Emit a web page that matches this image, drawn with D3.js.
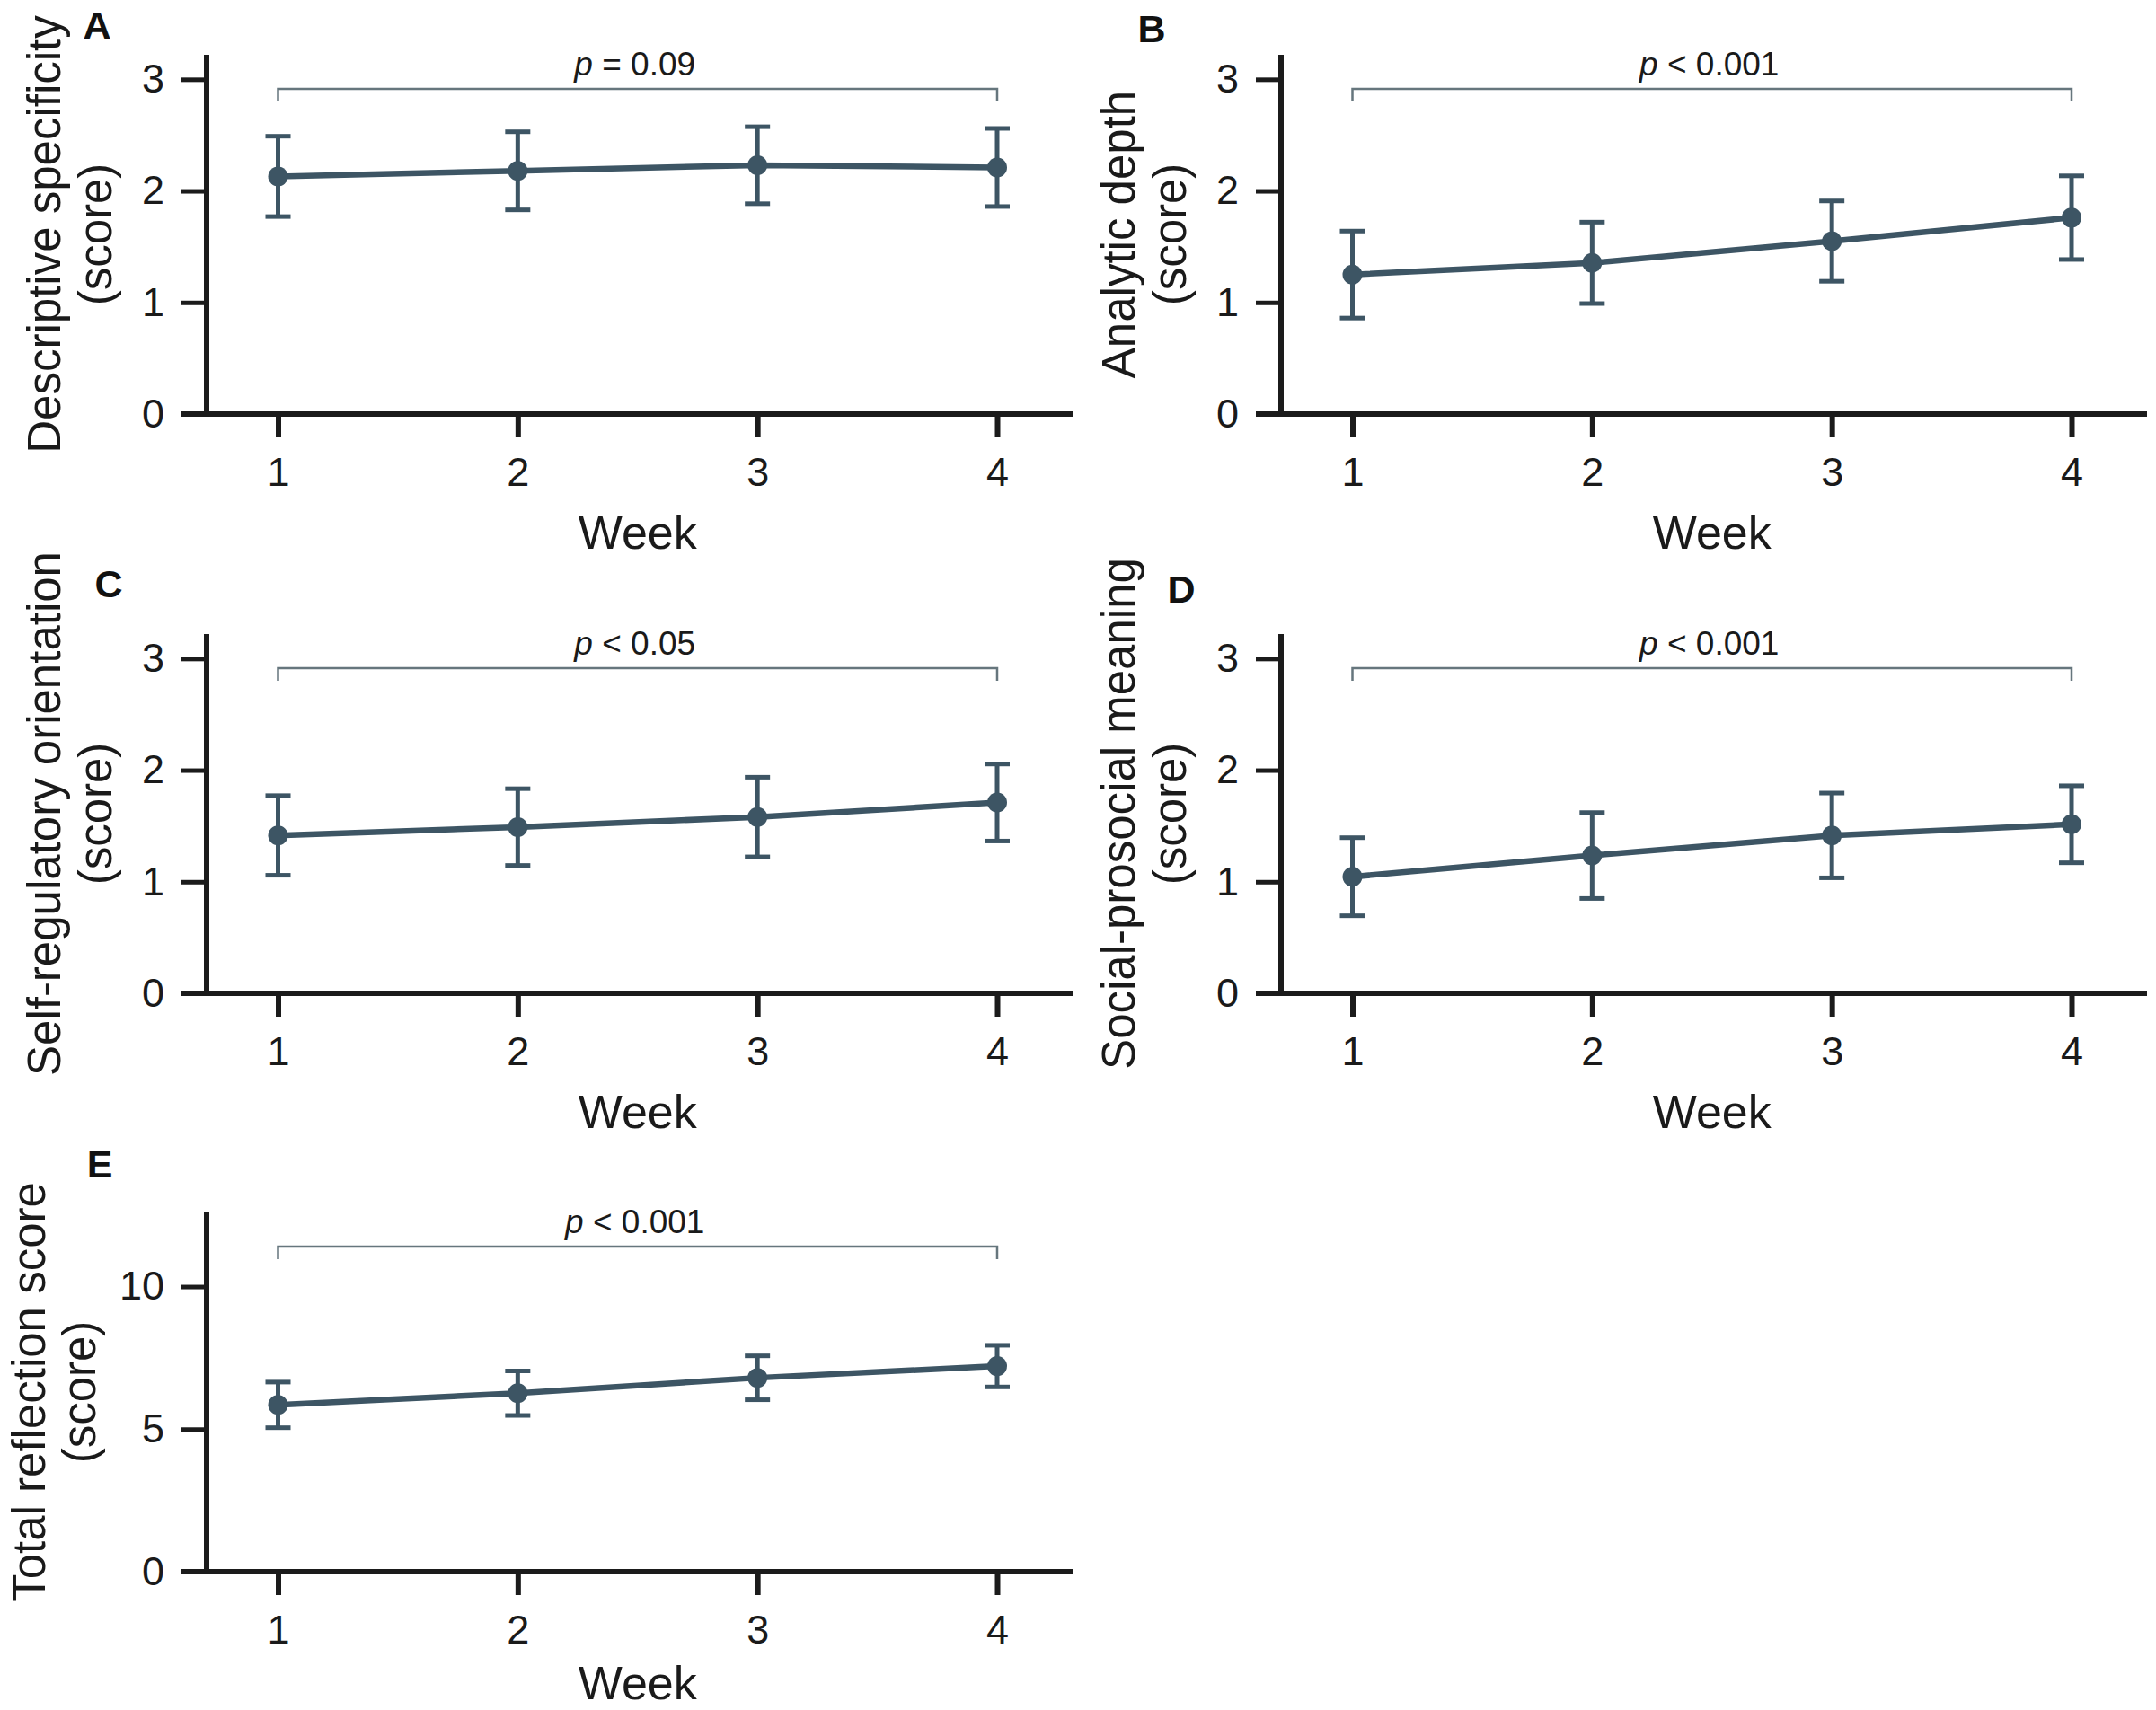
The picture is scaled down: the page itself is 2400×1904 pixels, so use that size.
<!DOCTYPE html>
<html>
<head>
<meta charset="utf-8">
<script src="https://cdn.jsdelivr.net/npm/d3@7"></script>
<style>
  html, body { margin: 0; padding: 0; background: #fff; }
  svg { display: block; font-family: "Liberation Sans", Arial, sans-serif; }
</style>
</head>
<body>
<div id="chart"></div>
<script>
// values (mean and error-bar half width per week)
const weeks = [1, 2, 3, 4];
const panelLetters = ['A', 'B', 'C', 'D', 'E'];
const yTitles = [
  'Descriptive specificity',
  'Analytic depth',
  'Self-regulatory orientation',
  'Social-prosocial meaning',
  'Total reflection score'
];
const pLabels = [' = 0.09', ' < 0.001', ' < 0.05', ' < 0.001', ' < 0.001'];

const descMean = [2.13, 2.18, 2.23, 2.21];
const descErr = [0.36, 0.35, 0.345, 0.35];
const analyticMean = [1.25, 1.355, 1.55, 1.76];
const analyticErr = [0.39, 0.365, 0.36, 0.375];
const selfRegMean = [1.415, 1.49, 1.58, 1.71];
const selfRegErr = [0.357, 0.344, 0.357, 0.345];
const socialMean = [1.045, 1.235, 1.415, 1.515];
const socialErr = [0.35, 0.385, 0.38, 0.345];
const totalMean = [5.85, 6.26, 6.80, 7.21];
const totalErr = [0.80, 0.78, 0.77, 0.73];

const subscaleTicks = [0, 1, 2, 3];
const totalTicks = [0, 5, 10];

const series = [
  { mean: descMean, err: descErr, max: 3.22, ticks: subscaleTicks },
  { mean: analyticMean, err: analyticErr, max: 3.22, ticks: subscaleTicks },
  { mean: selfRegMean, err: selfRegErr, max: 3.22, ticks: subscaleTicks },
  { mean: socialMean, err: socialErr, max: 3.22, ticks: subscaleTicks },
  { mean: totalMean, err: totalErr, max: 12.6, ticks: totalTicks }
];

// panel placement: y-axis x, x-axis y, title offsets
const layout = [
  { ax: 230, base: 461, lab: [108, 43], t1: -163, t2: -106, wk: 150 },
  { ax: 1426, base: 461, lab: [1282, 47], t1: -163, t2: -106, wk: 150 },
  { ax: 230, base: 1106, lab: [121, 665], t1: -163, t2: -106, wk: 150 },
  { ax: 1426, base: 1106, lab: [1315, 671], t1: -163, t2: -106, wk: 150 },
  { ax: 230, base: 1750, lab: [111, 1311], t1: -180, t2: -124, wk: 142 }
];

const W = 2400, H = 1904;
const plotH = 400, plotW = 964;
const lineColor = '#3d5564';
const axisColor = '#1b1b1b';

const svg = d3.select('#chart').append('svg')
  .attr('width', W)
  .attr('height', H);

series.forEach((s, i) => {
  const L = layout[i];
  const g = svg.append('g')
    .attr('transform', `translate(${L.ax},${L.base - plotH})`);

  const x = d3.scaleLinear().domain([1, 4]).range([79.5, 880]);
  const y = d3.scaleLinear().domain([0, s.max]).range([plotH, 0]);

  // y axis
  const yAx = g.append('g')
    .call(d3.axisLeft(y).tickValues(s.ticks).tickSize(28).tickPadding(19).tickFormat(d3.format('d')));
  yAx.select('.domain').remove();
  yAx.selectAll('line').attr('stroke', axisColor).attr('stroke-width', 5);
  yAx.selectAll('text')
    .attr('font-size', 45)
    .attr('fill', '#1a1a1a')
    .attr('font-family', '"Liberation Sans", Arial, sans-serif');

  // x axis
  const xAx = g.append('g')
    .attr('transform', `translate(0,${plotH})`)
    .call(d3.axisBottom(x).tickValues(weeks).tickSize(26).tickPadding(22).tickFormat(d3.format('d')));
  xAx.select('.domain').remove();
  xAx.selectAll('line').attr('stroke', axisColor).attr('stroke-width', 6);
  xAx.selectAll('text')
    .attr('font-size', 45)
    .attr('fill', '#1a1a1a')
    .attr('dy', '0.71em')
    .attr('font-family', '"Liberation Sans", Arial, sans-serif');

  // axis lines
  g.append('line')
    .attr('x1', 0).attr('x2', 0)
    .attr('y1', 0).attr('y2', plotH + 3)
    .attr('stroke', axisColor).attr('stroke-width', 6);
  g.append('line')
    .attr('x1', -28).attr('x2', plotW)
    .attr('y1', plotH).attr('y2', plotH)
    .attr('stroke', axisColor).attr('stroke-width', 6);

  // axis titles
  g.append('text')
    .attr('text-anchor', 'middle')
    .attr('x', (x(1) + x(4)) / 2)
    .attr('y', plotH + L.wk)
    .attr('font-size', 52)
    .attr('fill', '#1a1a1a')
    .text('Week');

  const yt = g.append('text')
    .attr('text-anchor', 'middle')
    .attr('transform', `translate(${L.t1},${plotH / 2}) rotate(-90)`)
    .attr('font-size', 51)
    .attr('fill', '#1a1a1a');
  yt.append('tspan').attr('x', 0).attr('y', 0).text(yTitles[i]);
  yt.append('tspan').attr('x', 0).attr('y', L.t2 - L.t1).text('(score)');

  // significance bracket
  const by = 38;
  g.append('path')
    .attr('d', `M${x(1)},${by + 14}V${by}H${x(4)}V${by + 14}`)
    .attr('fill', 'none')
    .attr('stroke', '#66767d')
    .attr('stroke-width', 2.5);
  const pt = g.append('text')
    .attr('text-anchor', 'middle')
    .attr('x', (x(1) + x(4)) / 2 - 3)
    .attr('y', by - 15)
    .attr('font-size', 37)
    .attr('fill', '#1a1a1a')
    .attr('xml:space', 'preserve');
  pt.append('tspan').attr('font-style', 'italic').text('p');
  pt.append('tspan').text(pLabels[i]);

  const pts = weeks.map((w, k) => ({ w, m: s.mean[k], e: s.err[k] }));

  // error bars
  const eb = g.selectAll('.eb').data(pts).enter().append('g');
  eb.append('line')
    .attr('x1', d => x(d.w)).attr('x2', d => x(d.w))
    .attr('y1', d => y(d.m - d.e)).attr('y2', d => y(d.m + d.e))
    .attr('stroke', lineColor).attr('stroke-width', 5);
  [-1, 1].forEach(sgn => {
    eb.append('line')
      .attr('x1', d => x(d.w) - 14).attr('x2', d => x(d.w) + 14)
      .attr('y1', d => y(d.m + sgn * d.e)).attr('y2', d => y(d.m + sgn * d.e))
      .attr('stroke', lineColor).attr('stroke-width', 5);
  });

  // mean line and markers
  g.append('path')
    .datum(pts)
    .attr('d', d3.line().x(d => x(d.w)).y(d => y(d.m)))
    .attr('fill', 'none')
    .attr('stroke', lineColor)
    .attr('stroke-width', 6.5);
  g.selectAll('.pt').data(pts).enter().append('circle')
    .attr('cx', d => x(d.w))
    .attr('cy', d => y(d.m))
    .attr('r', 11)
    .attr('fill', lineColor);

  // panel letter
  svg.append('text')
    .attr('x', L.lab[0])
    .attr('y', L.lab[1])
    .attr('text-anchor', 'middle')
    .attr('font-size', 43)
    .attr('font-weight', 'bold')
    .attr('fill', '#111')
    .text(panelLetters[i]);
});
</script>
</body>
</html>
